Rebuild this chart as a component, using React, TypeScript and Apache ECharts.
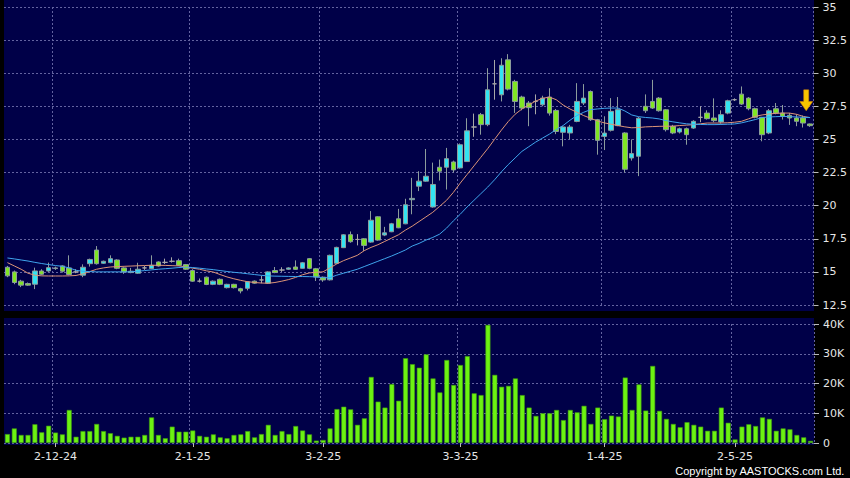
import React, { useEffect, useRef } from "react";
import * as echarts from "echarts";

const dates: string[] = [
  "21-11-24","22-11-24","25-11-24","26-11-24","27-11-24","28-11-24","29-11-24",
  "2-12-24","3-12-24","4-12-24","5-12-24","6-12-24","9-12-24","10-12-24","11-12-24","12-12-24","13-12-24",
  "16-12-24","17-12-24","18-12-24","19-12-24","20-12-24","23-12-24","24-12-24","27-12-24","30-12-24","31-12-24",
  "2-1-25","3-1-25","6-1-25","7-1-25","8-1-25","9-1-25","10-1-25","13-1-25","14-1-25","15-1-25","16-1-25","17-1-25",
  "20-1-25","21-1-25","22-1-25","23-1-25","24-1-25","27-1-25","28-1-25",
  "3-2-25","4-2-25","5-2-25","6-2-25","7-2-25","10-2-25","11-2-25","12-2-25","13-2-25","14-2-25",
  "17-2-25","18-2-25","19-2-25","20-2-25","21-2-25","24-2-25","25-2-25","26-2-25","27-2-25","28-2-25",
  "3-3-25","4-3-25","5-3-25","6-3-25","7-3-25","10-3-25","11-3-25","12-3-25","13-3-25","14-3-25",
  "17-3-25","18-3-25","19-3-25","20-3-25","21-3-25","24-3-25","25-3-25","26-3-25","27-3-25","28-3-25","31-3-25",
  "1-4-25","2-4-25","3-4-25","7-4-25","8-4-25","9-4-25","10-4-25","11-4-25","14-4-25","15-4-25","16-4-25","17-4-25",
  "22-4-25","23-4-25","24-4-25","25-4-25","28-4-25","29-4-25","30-4-25",
  "2-5-25","6-5-25","7-5-25","8-5-25","9-5-25","12-5-25","13-5-25","14-5-25","15-5-25","16-5-25","19-5-25","20-5-25",
];

const opens: number[] = [
  15.35,15.0,14.3,14.12,14.07,15.07,15.07,15.25,15.45,15.3,15.0,14.75,15.62,16.65,15.65,15.7,15.9,15.3,14.95,14.9,
  15.3,15.25,15.75,15.72,15.8,15.85,15.55,15.1,14.3,14.6,14.06,14.44,13.81,14.06,13.73,13.76,14.3,14.39,14.15,15.1,
  15.14,15.2,15.37,15.27,16.0,15.24,14.6,14.4,15.65,16.83,17.81,17.45,17.5,17.25,19.16,17.78,18.03,19.01,18.63,20.45,
  21.47,21.85,19.9,22.9,22.9,23.3,22.85,23.33,25.94,26.87,26.12,29.2,28.37,31.01,29.38,28.2,27.75,27.87,27.62,28.2,
  27.19,25.54,25.49,26.36,27.75,28.62,26.49,25.23,25.69,26.04,25.49,23.6,23.73,27.5,27.87,28.12,27.24,25.99,25.56,25.81,
  25.86,26.67,26.99,26.62,26.32,26.99,28.0,28.42,28.12,27.32,26.67,25.49,27.32,26.99,26.82,26.62,26.62,26.17,
];
const closes: number[] = [
  14.7,14.2,14.0,14.0,15.07,14.82,15.32,15.3,15.05,14.8,15.0,15.35,15.94,15.62,15.8,16.0,15.27,15.0,15.05,15.2,
  15.3,15.5,15.45,15.72,15.8,15.5,15.2,14.3,14.3,14.05,14.3,14.06,14.06,13.81,13.56,14.26,14.15,14.39,15.0,14.95,
  15.14,15.3,15.19,15.69,15.27,14.61,14.39,16.25,16.85,17.8,17.28,17.45,17.0,18.9,17.4,17.95,18.63,18.33,20.07,20.55,
  21.85,22.22,21.6,22.6,23.55,22.7,24.6,25.65,25.94,26.12,28.75,29.2,30.6,28.8,27.87,27.37,27.4,27.87,28.12,26.99,
  25.6,25.94,25.94,27.87,28.12,26.49,24.93,25.48,27.12,27.25,22.75,23.93,26.6,27.17,27.37,27.17,25.74,25.49,25.81,25.36,
  26.37,26.67,26.57,26.42,26.87,27.92,28.0,27.67,27.32,26.67,25.36,27.17,26.99,26.74,26.62,26.37,26.24,26.04,
];
const lows: number[] = [
  14.6,14.07,13.85,13.95,13.7,14.75,15.0,15.15,14.95,14.75,14.9,14.6,15.4,15.55,15.6,15.65,15.2,14.85,14.9,14.85,
  15.15,15.2,15.4,15.6,15.7,15.45,15.15,14.25,14.2,14.0,14.0,14.0,13.75,13.75,13.38,13.6,14.1,14.14,14.1,14.9,
  15.0,15.15,15.15,15.25,15.2,14.31,14.25,14.35,15.6,16.8,17.2,17.0,16.58,17.2,17.35,17.7,18.0,18.3,18.6,19.35,
  21.1,21.8,19.85,21.9,21.22,22.5,22.8,23.3,25.2,25.36,26.0,28.0,27.87,28.7,27.0,27.2,26.0,26.9,27.5,26.8,
  25.4,24.48,25.0,26.3,27.6,26.4,23.85,24.2,25.6,26.0,22.5,23.4,22.23,27.0,27.3,27.1,25.6,25.4,25.45,24.6,
  25.8,26.3,26.5,26.3,26.2,26.9,27.9,27.6,27.2,26.6,24.86,25.4,26.9,26.5,26.1,26.0,25.9,25.95,
];
const highs: number[] = [
  15.45,15.1,14.4,14.2,15.32,15.2,15.7,15.4,15.5,16.25,15.2,15.57,16.0,16.95,15.85,16.25,15.95,15.35,15.3,15.69,
  15.45,16.25,15.8,16.0,16.1,16.0,15.6,15.2,14.5,14.65,14.35,14.5,14.1,14.1,13.8,14.3,14.35,14.7,15.05,15.37,
  15.35,15.35,15.87,15.75,16.05,15.3,14.65,16.3,16.9,17.85,18.05,17.85,17.55,19.59,19.2,18.4,18.7,19.76,20.52,22.1,
  22.6,24.28,23.25,23.48,24.36,23.4,24.7,26.6,26.95,27.0,30.38,31.0,31.13,31.44,29.5,28.3,27.9,28.4,28.3,28.87,
  27.3,26.0,26.1,29.25,29.18,28.7,26.55,26.75,28.12,28.2,25.55,25.0,26.7,28.4,29.5,28.2,27.3,26.1,25.9,25.9,
  26.45,27.5,27.2,28.1,27.2,28.0,28.1,29.0,28.2,27.4,26.7,27.3,27.75,27.6,27.0,26.9,26.8,26.2,
];
const volumeK: number[] = [
  3.0,4.9,2.7,2.7,6.3,3.6,5.8,3.5,2.9,11.1,2.1,4.0,4.0,6.4,4.0,3.3,2.4,1.8,2.1,2.1,
  2.7,8.6,2.7,1.6,5.5,3.8,3.8,4.2,2.4,2.1,2.9,1.9,1.6,2.7,2.9,4.0,1.9,3.0,6.1,2.7,
  4.0,3.0,5.7,4.2,2.9,0.8,1.0,4.9,11.4,12.2,11.3,6.1,8.3,22.2,13.9,11.9,19.8,14.2,28.5,26.5,
  25.3,29.8,21.7,17.0,27.9,19.5,26.2,29.2,16.7,16.1,39.7,22.9,18.9,19.2,21.7,16.1,11.9,9.1,10.0,10.0,
  11.1,7.7,11.1,10.3,12.5,6.4,11.9,8.0,9.2,8.9,22.0,11.1,19.7,10.9,25.9,10.8,8.1,6.4,5.3,7.0,
  6.1,5.5,4.1,4.1,11.9,6.8,1.2,5.5,6.3,5.7,8.6,8.1,4.1,4.9,4.6,2.7,1.9,0.7,
];
const maShort: number[] = [
  15.7,15.45,15.2,14.9,14.75,14.7,14.69,14.69,14.69,14.7,14.73,14.85,15.02,15.2,15.3,15.37,15.4,15.42,15.44,15.46,
  15.48,15.5,15.5,15.49,15.47,15.45,15.38,15.28,15.2,15.08,14.99,14.8,14.62,14.48,14.36,14.26,14.2,14.16,14.14,14.2,
  14.3,14.42,14.58,14.78,14.92,14.97,15.0,15.3,15.6,15.85,16.05,16.25,16.6,16.85,17.05,17.3,17.55,17.8,18.15,18.45,
  18.8,19.15,19.5,19.95,20.4,21.0,21.7,22.35,23.0,23.65,24.3,25.0,25.7,26.35,26.9,27.3,27.6,27.9,28.1,28.2,
  28.0,27.6,27.3,27.05,26.8,26.6,26.4,26.25,26.15,26.05,25.95,25.88,25.9,25.95,25.97,25.99,26.0,26.0,26.05,26.08,
  26.12,26.18,26.24,26.24,26.24,26.26,26.3,26.37,26.55,26.74,26.85,26.92,26.97,26.99,26.99,26.9,26.74,26.65,
];
const maLong: number[] = [
  16.05,15.98,15.9,15.82,15.72,15.63,15.55,15.48,15.42,15.3,15.12,15.05,15.02,15.0,15.0,15.0,15.0,15.0,15.0,15.05,
  15.1,15.15,15.2,15.24,15.28,15.33,15.36,15.33,15.28,15.22,15.17,15.1,15.03,14.97,14.92,14.86,14.8,14.74,14.7,14.68,
  14.67,14.66,14.65,14.65,14.64,14.62,14.55,14.57,14.75,14.9,15.05,15.2,15.4,15.6,15.8,16.0,16.2,16.42,16.65,16.95,
  17.15,17.4,17.6,17.85,18.3,18.85,19.35,19.9,20.4,20.9,21.4,21.95,22.55,23.1,23.6,24.1,24.45,24.8,25.1,25.4,
  25.75,26.05,26.45,26.8,27.05,27.25,27.3,27.35,27.37,27.37,27.15,26.85,26.72,26.66,26.62,26.55,26.42,26.33,26.25,26.18,
  26.15,26.13,26.12,26.12,26.13,26.15,26.17,26.25,26.37,26.5,26.65,26.7,26.72,26.74,26.72,26.7,26.67,26.65,
];

const NAVY = "#000048";
const GRID_LINE = { color: "#6363a0", width: 1, type: [2, 2] as number[] };
const TEXT = "#e6e6e6";

const monthOf = (s: string) => s.split("-")[1];
const monthStart = (index: number) =>
  index > 0 && monthOf(dates[index]) !== monthOf(dates[index - 1]);

export default function App() {
  const ref = useRef<HTMLDivElement>(null);
  useEffect(() => {
    if (!ref.current) return;
    const chart = echarts.init(ref.current, undefined, { renderer: "svg" });
    const candles = dates.map((_, i) => [opens[i], closes[i], lows[i], highs[i]]);
    const arrowIdx = dates.length - 2;
    chart.setOption({
      animation: false,
      backgroundColor: "#000000",
      graphic: [
        { type: "rect", z: -10, silent: true, shape: { x: 4, y: 0, width: 810, height: 311 }, style: { fill: NAVY } },
        { type: "rect", z: -10, silent: true, shape: { x: 4, y: 318, width: 810, height: 127 }, style: { fill: NAVY } },
        {
          type: "text", right: 5, top: 465,
          style: { text: "Copyright by AASTOCKS.com Ltd.", fill: "#ffffff", font: '11px "Liberation Sans", "DejaVu Sans", sans-serif' },
        },
      ],
      grid: [
        { left: 4, right: 36, top: 7, height: 298 },
        { left: 4, right: 36, top: 324, height: 119 },
      ],
      xAxis: [
        {
          type: "category", gridIndex: 0, data: dates, boundaryGap: true,
          axisLine: { show: false }, axisTick: { show: false }, axisLabel: { show: false },
          splitLine: { show: true, interval: monthStart, lineStyle: GRID_LINE },
        },
        {
          type: "category", gridIndex: 1, data: dates, boundaryGap: true,
          axisLine: { show: false },
          axisTick: { show: true, alignWithLabel: true, interval: monthStart, length: 4, lineStyle: { color: "#bbbbbb" } },
          axisLabel: { show: true, interval: monthStart, color: TEXT, fontSize: 11, fontFamily: "DejaVu Sans", margin: 8 },
          splitLine: { show: true, interval: monthStart, lineStyle: GRID_LINE },
        },
      ],
      yAxis: [
        {
          type: "value", gridIndex: 0, position: "right", min: 12.5, max: 35, interval: 2.5,
          axisLine: { show: false },
          axisTick: { show: true, length: 5, lineStyle: { color: "#bbbbbb" } },
          axisLabel: { color: TEXT, fontSize: 11, fontFamily: "DejaVu Sans", margin: 9 },
          splitLine: { show: true, lineStyle: GRID_LINE },
        },
        {
          type: "value", gridIndex: 1, position: "right", min: 0, max: 40, interval: 10,
          axisLine: { show: false },
          axisTick: { show: true, length: 5, lineStyle: { color: "#bbbbbb" } },
          axisLabel: {
            color: TEXT, fontSize: 11, fontFamily: "DejaVu Sans", margin: 9,
            formatter: (v: number) => (v === 0 ? "0" : v + "K"),
          },
          splitLine: { show: true, lineStyle: GRID_LINE },
        },
      ],
      series: [
        {
          type: "candlestick", xAxisIndex: 0, yAxisIndex: 0, data: candles, barWidth: 5,
          itemStyle: {
            color: "#33e4f2", color0: "#80e524",
            borderColor: "#8c9c9c", borderColor0: "#8c9c9c", borderColorDoji: "#a8a8a8", borderWidth: 1,
          },
          markPoint: {
            silent: true,
            data: [{
              coord: [dates[arrowIdx], 27.95],
              symbol: "path://M4,0 L9,0 L9,10 L13,10 L6.5,18 L0,10 L4,10 Z",
              symbolSize: [13, 21], symbolOffset: [3, 0],
              itemStyle: { color: "#f7c400", borderColor: "#e08a00", borderWidth: 0.5 },
              label: { show: false },
            }],
          },
        },
        {
          type: "line", xAxisIndex: 0, yAxisIndex: 0, data: maShort, symbol: "none",
          lineStyle: { color: "#dc9478", width: 1 }, z: 3,
        },
        {
          type: "line", xAxisIndex: 0, yAxisIndex: 0, data: maLong, symbol: "none",
          lineStyle: { color: "#3fa4ec", width: 1 }, z: 3,
        },
        {
          type: "bar", xAxisIndex: 1, yAxisIndex: 1, data: volumeK, barWidth: 5,
          itemStyle: { color: "#6cf212", borderColor: "#3f9a10", borderWidth: 0.6 },
        },
      ],
    });
    return () => chart.dispose();
  }, []);
  return (
    <div
      ref={ref}
      style={{ position: "fixed", left: 0, top: 0, width: 850, height: 478, background: "#000" }}
    />
  );
}
